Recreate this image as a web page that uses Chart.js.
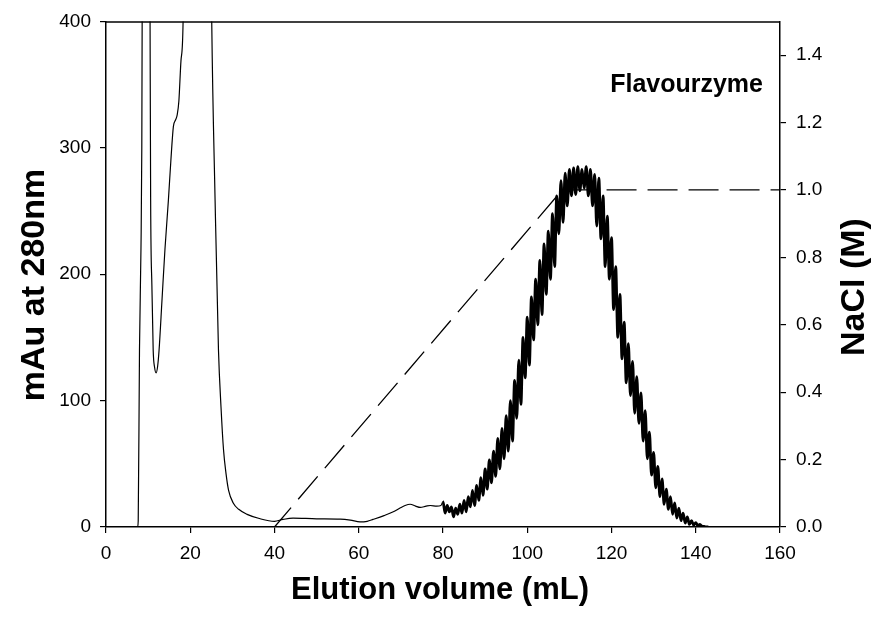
<!DOCTYPE html>
<html>
<head>
<meta charset="utf-8">
<script src="https://cdn.jsdelivr.net/npm/chart.js@4.4.1/dist/chart.umd.min.js"></script>
<style>
  html, body { margin: 0; padding: 0; background: #fff; }
  #wrap { width: 877px; height: 623px; }
</style>
</head>
<body>
<div id="wrap"><canvas id="c" width="877" height="623"></canvas></div>
<script>
// Absorbance at 280 nm, flow-through and wash region (volume in mL, absorbance in mAu)
const earlyVolume = [0, 7.5, 7.65, 7.95, 8.3, 8.5, 8.6, 9.2, 10.0, 10.46, 10.6, 10.9, 11.2, 11.55, 11.9, 12.25, 12.6,
  13.3, 14.0, 14.8, 15.4, 16.0, 16.5, 16.9, 17.3, 17.8, 18.3, 19.5, 22, 24, 25.1, 25.9, 26.7, 27.3, 27.9, 28.5,
  29.1, 30.2, 31.5, 33.5, 36.6, 40, 42, 44.4, 50, 55.6, 58, 60.3, 62, 63.4, 66, 68.2, 69.8, 71, 72.2, 73.5, 74.6,
  76, 77, 78.5, 79.5];
const earlyAbs = [0, 0, 5, 140, 220, 300, 420, 1400, 900, 400, 258, 190, 140, 126, 122, 127, 140,
  180, 220, 258, 290, 317, 322, 326, 337, 369, 400, 900, 1000, 800, 400, 258, 140, 95, 61, 42,
  29, 19, 14, 10, 6.5, 4.5, 6, 7, 6.5, 6.3, 5.5, 4, 4.5, 6, 9, 12, 15, 17, 18, 16.5, 15.5,
  16.5, 17, 16.5, 17];

// Salt-eluted peak, recorded every 0.5 mL from 80 mL (absorbance in mAu)
const peakStart = 80;
const peakStep = 0.5;
const peakAbs = [
  20, 11, 17, 12, 16, 8, 15, 10, 18, 11,            // 80 - 84.5
  21, 12, 24, 16, 29, 17, 33, 21, 39, 25,           // 85 - 89.5
  46, 30, 53, 35, 60, 40, 70, 46, 78, 54,           // 90 - 94.5
  88, 60, 100, 68, 116, 86, 132, 97, 150, 118,      // 95 - 99.5
  166, 128, 182, 148, 196, 160, 211, 168, 224, 184, // 100 - 104.5
  234, 196, 248, 206, 262, 232, 274, 241, 280, 254, // 105 - 109.5
  283, 262, 284, 263, 285, 266, 283, 268, 285, 262, // 110 - 114.5
  283, 254, 279, 238, 276, 228, 262, 206, 246, 196, // 115 - 119.5
  229, 172, 206, 150, 184, 133, 162, 114, 145, 104, // 120 - 124.5
  131, 90, 119, 82, 106, 68, 92, 54, 75, 41,        // 125 - 129.5
  59, 31, 48, 24, 38, 18, 30, 14, 24, 10,           // 130 - 134.5
  19, 7, 15, 5, 11, 3, 8, 2, 5, 1.5,                // 135 - 139.5
  3.5, 1, 2, 0.5, 0.5, 0, 0                         // 140 - 143
];

// NaCl gradient programme (volume in mL, concentration in M)
const gradientVolume = [0, 40, 108.3, 160];
const gradientNaCl = [0, 0, 1.0, 1.0];

// Axis tick values
const xTickValues = [0, 20, 40, 60, 80, 100, 120, 140, 160];
const absTickValues = [0, 100, 200, 300, 400];
const naclTickValues = [0, 0.2, 0.4, 0.6, 0.8, 1.0, 1.2, 1.4];

const FONT = "'Liberation Sans', Arial, Helvetica, sans-serif";

const absPoints = earlyVolume.map((v, i) => ({ x: v, y: earlyAbs[i] }))
  .concat(peakAbs.map((a, i) => ({ x: peakStart + i * peakStep, y: a })));
const gradientPoints = gradientVolume.map((v, i) => ({ x: v, y: gradientNaCl[i] }));

// Frame top edge plus the axis titles and the enzyme label
const decorations = {
  id: 'decorations',
  afterDraw(chart) {
    const { ctx, chartArea: a } = chart;
    ctx.save();
    ctx.strokeStyle = '#000';
    ctx.lineWidth = 1.5;
    ctx.beginPath();
    ctx.moveTo(a.left, a.top + 0.5);
    ctx.lineTo(a.right, a.top + 0.5);
    ctx.stroke();

    ctx.fillStyle = '#000';
    ctx.font = `bold 25px ${FONT}`;
    ctx.textAlign = 'right';
    ctx.textBaseline = 'alphabetic';
    ctx.fillText('Flavourzyme', 763, 92);

    ctx.font = `bold 31px ${FONT}`;
    ctx.textAlign = 'center';
    ctx.textBaseline = 'middle';
    ctx.fillText('Elution volume (mL)', 440, 590);

    ctx.font = `bold 34px ${FONT}`;
    ctx.save();
    ctx.translate(35, 285);
    ctx.rotate(-Math.PI / 2);
    ctx.fillText('mAu at 280nm', 0, 0);
    ctx.restore();

    ctx.save();
    ctx.translate(855, 287);
    ctx.rotate(-Math.PI / 2);
    ctx.fillText('NaCl (M)', 0, 0);
    ctx.restore();
    ctx.restore();
  }
};

const tickFont = { family: FONT, size: 19 };
const axisGrid = { drawOnChartArea: false, drawTicks: true, tickLength: 6, color: '#000', lineWidth: 1.2 };
const axisBorder = { display: true, color: '#000', width: 1.5 };

new Chart(document.getElementById('c'), {
  type: 'line',
  data: {
    datasets: [
      {
        label: 'A280',
        data: absPoints,
        yAxisID: 'y',
        borderColor: '#000',
        borderWidth: 1.2,
        pointRadius: 0,
        cubicInterpolationMode: 'monotone',
        segment: {
          borderWidth: c => (c.p0.parsed.x >= peakStart - 0.01 ? 2.8 : 1.2)
        }
      },
      {
        label: 'NaCl',
        data: gradientPoints,
        yAxisID: 'yR',
        borderColor: '#000',
        borderWidth: 1.3,
        borderDash: [30, 11],
        pointRadius: 0,
        tension: 0
      }
    ]
  },
  options: {
    responsive: false,
    devicePixelRatio: 1,
    animation: false,
    layout: { padding: { top: 20, left: 0, right: 0, bottom: 0 } },
    plugins: { legend: { display: false }, tooltip: { enabled: false }, title: { display: false } },
    scales: {
      x: {
        type: 'linear',
        position: 'bottom',
        min: 0,
        max: 160,
        afterBuildTicks: s => { s.ticks = xTickValues.map(v => ({ value: v })); },
        afterFit: s => { s.height = 96; },
        grid: axisGrid,
        border: axisBorder,
        ticks: { color: '#000', font: tickFont, padding: 9, maxRotation: 0, autoSkip: false }
      },
      y: {
        type: 'linear',
        position: 'left',
        min: 0,
        max: 400,
        afterBuildTicks: s => { s.ticks = absTickValues.map(v => ({ value: v })); },
        afterFit: s => { s.width = 106; },
        grid: axisGrid,
        border: axisBorder,
        ticks: { color: '#000', font: tickFont, padding: 9, autoSkip: false }
      },
      yR: {
        type: 'linear',
        position: 'right',
        min: 0,
        max: 1.5,
        afterBuildTicks: s => { s.ticks = naclTickValues.map(v => ({ value: v })); },
        afterFit: s => { s.width = 97; },
        grid: axisGrid,
        border: axisBorder,
        ticks: { color: '#000', font: tickFont, padding: 10, autoSkip: false, callback: v => Number(v).toFixed(1) }
      }
    }
  },
  plugins: [decorations]
});
</script>
</body>
</html>
